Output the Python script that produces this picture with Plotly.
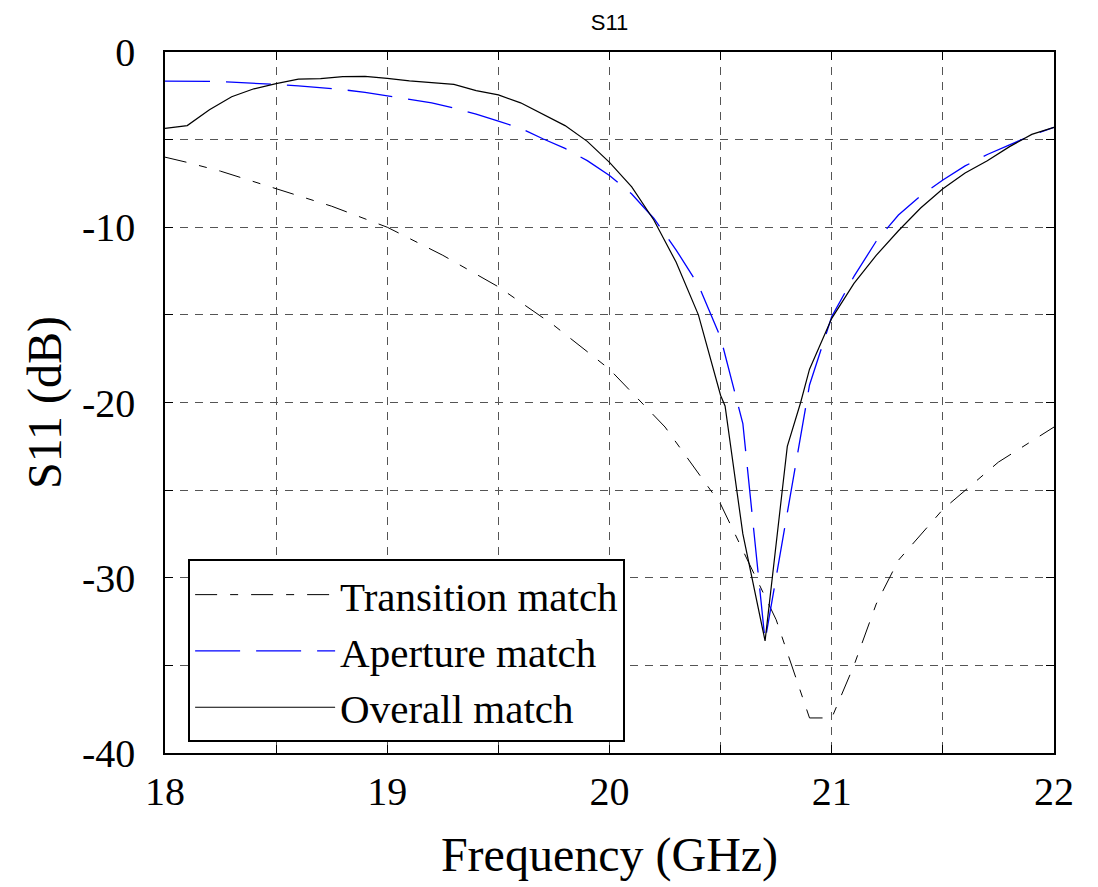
import plotly.graph_objects as go

# ---- data ----
freq_transition = [18.0, 18.1, 18.25, 18.5, 18.75, 19.0, 19.25, 19.5, 19.75, 20.0,
                   20.25, 20.5, 20.75, 20.9, 21.0, 21.1, 21.2, 21.3, 21.5, 21.75, 22.0]
s11_transition = [-6.0, -6.3, -6.8, -7.8, -8.8, -10.0, -11.6, -13.4, -15.6, -18.1,
                  -21.4, -25.8, -32.4, -38.0, -38.0, -35.0, -31.5, -29.0, -26.1, -23.4, -21.4]

freq_aperture = [18.0, 18.1, 18.2, 18.3, 18.4, 18.5, 18.6, 18.7, 18.8, 18.9, 19.0,
                 19.1, 19.2, 19.3, 19.4, 19.5, 19.6, 19.7, 19.8, 19.9, 20.0,
                 20.1, 20.2, 20.3, 20.4, 20.5, 20.6, 20.7, 20.8, 20.9, 21.0,
                 21.1, 21.2, 21.3, 21.4, 21.5, 21.6, 21.7, 21.8, 21.9, 22.0]
s11_aperture = [-1.66, -1.66, -1.68, -1.72, -1.77, -1.85, -1.93, -2.02, -2.15, -2.3, -2.5,
                -2.7, -2.9, -3.2, -3.55, -3.95, -4.35, -4.95, -5.5, -6.2, -7.05,
                -8.1, -9.5, -11.3, -13.3, -16.3, -21.2, -33.6, -26.4, -19.0, -15.1,
                -12.8, -10.8, -9.3, -8.2, -7.3, -6.5, -5.85, -5.3, -4.75, -4.3]

freq_overall = [18.0, 18.1, 18.2, 18.3, 18.4, 18.5, 18.6, 18.7, 18.8, 18.9, 19.0,
                19.1, 19.2, 19.3, 19.4, 19.5, 19.6, 19.7, 19.8, 19.9, 20.0,
                20.1, 20.2, 20.3, 20.4, 20.5, 20.52, 20.6, 20.7, 20.8, 20.86, 20.9,
                21.0, 21.1, 21.2, 21.3, 21.4, 21.5, 21.6, 21.7, 21.8, 21.9, 22.0]
s11_overall = [-4.36, -4.2, -3.3, -2.55, -2.1, -1.8, -1.55, -1.52, -1.4, -1.39, -1.5,
               -1.65, -1.75, -1.85, -2.2, -2.45, -2.9, -3.55, -4.2, -5.1, -6.3,
               -7.7, -9.6, -12.0, -15.0, -19.6, -20.2, -27.5, -33.6, -22.5, -20.0, -18.1,
               -15.2, -13.2, -11.6, -10.2, -8.9, -7.8, -6.9, -6.2, -5.4, -4.7, -4.3]

x_tickvals = [18, 18.5, 19, 19.5, 20, 20.5, 21, 21.5, 22]
x_ticktext = ["18", "", "19", "", "20", "", "21", "", "22"]
y_tickvals = [-40, -35, -30, -25, -20, -15, -10, -5, 0]
y_ticktext = ["-40", "", "-30", "", "-20", "", "-10", "", "0"]

serif = "Liberation Serif, Times New Roman, serif"

fig = go.Figure()
fig.add_trace(go.Scatter(x=freq_transition, y=s11_transition, mode="lines",
                         name="Transition match",
                         line=dict(color="black", width=1, dash="22px,13px,8px,13px")))
fig.add_trace(go.Scatter(x=freq_aperture, y=s11_aperture, mode="lines",
                         name="Aperture match",
                         line=dict(color="#0000FF", width=1.3, dash="45px,16px")))
fig.add_trace(go.Scatter(x=freq_overall, y=s11_overall, mode="lines",
                         name="Overall match",
                         line=dict(color="black", width=1.2)))

axis_common = dict(
    showline=True, linecolor="black", linewidth=1.5, mirror="ticks",
    ticks="inside", ticklen=8, tickcolor="black", tickwidth=1,
    showgrid=True, gridcolor="#555555", gridwidth=1, griddash="8px,7px",
    zeroline=False,
    tickfont=dict(family=serif, size=40, color="black"),
)

fig.update_xaxes(range=[18, 22], tickmode="array", tickvals=x_tickvals, ticktext=x_ticktext,
                 ticklabelstandoff=2,
                 title=dict(text="Frequency (GHz)", font=dict(family=serif, size=48, color="black"),
                            standoff=25),
                 **axis_common)
fig.update_yaxes(range=[-40, 0], tickmode="array", tickvals=y_tickvals, ticktext=y_ticktext,
                 ticklabelstandoff=20,
                 title=dict(text="S11 (dB)", font=dict(family=serif, size=48, color="black"),
                            standoff=5),
                 **axis_common)

fig.update_layout(
    width=1098, height=887,
    margin=dict(l=157, r=52, t=44, b=142, autoexpand=False),
    paper_bgcolor="white", plot_bgcolor="white",
    title=dict(text="S11", x=0.5, xref="paper", xanchor="center",
               y=1 - 7 / 887, yref="container", yanchor="top",
               font=dict(family="Liberation Sans, Arial, sans-serif", size=22, color="black")),
    legend=dict(x=0.026, y=0.015, xanchor="left", yanchor="bottom",
                bgcolor="white", bordercolor="black", borderwidth=2,
                font=dict(family=serif, size=41, color="black"),
                itemwidth=140, tracegroupgap=0),
    showlegend=True,
)

fig.write_html("out.html")
